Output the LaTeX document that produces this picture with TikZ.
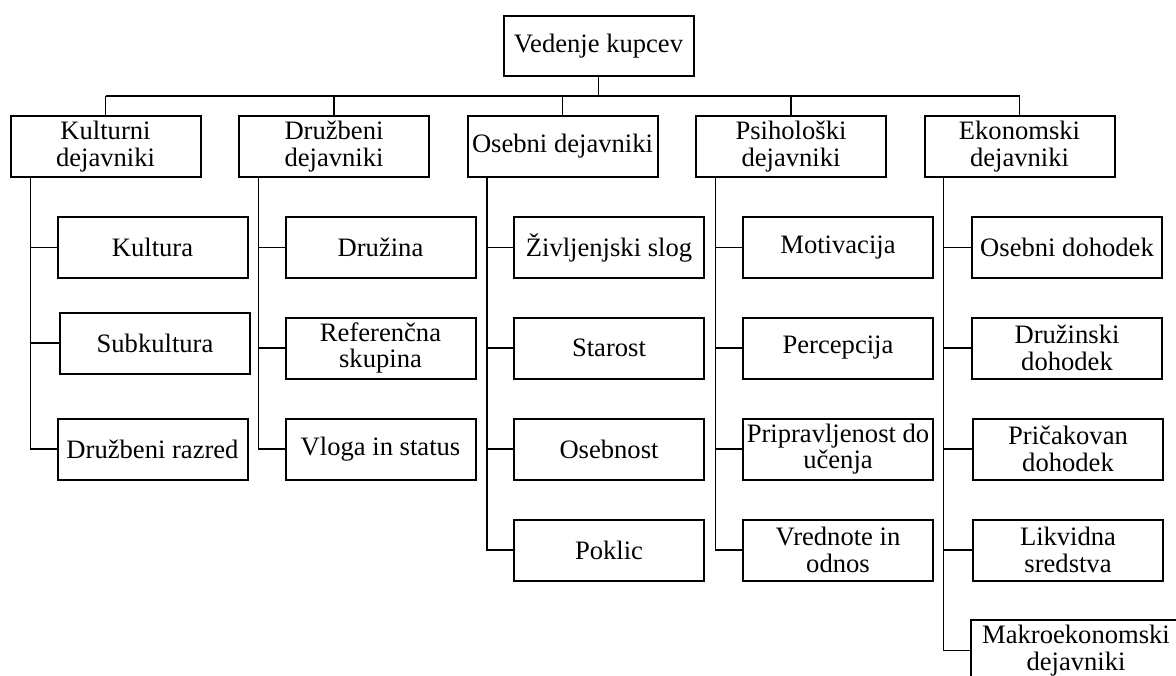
\documentclass[tikz,border=0pt]{standalone}
\usepackage{fontspec}
\setmainfont{Liberation Serif}
\begin{document}
\begin{tikzpicture}[x=0.5pt,y=-0.5pt,
  box/.style={draw, line width=1pt, minimum width=95pt, minimum height=30.5pt,
    inner sep=1pt, align=center, font=\fontsize{13.3}{13.2}\selectfont},
  wire/.style={line width=0.6pt},
  stem/.style={line width=0.9pt}]
\useasboundingbox (0,0) rectangle (1176,675);
% root and first level
\node[box, minimum height=30pt] (root) at (598.5,46) {Vedenje kupcev};
\node[box] (k) at (105.5,146.5) {Kulturni\\dejavniki};
\node[box] (d) at (334,146.5) {Družbeni\\dejavniki};
\node[box] (o) at (562.5,146.5) {Osebni dejavniki};
\node[box] (p) at (791,146.5) {Psihološki\\dejavniki};
\node[box] (e) at (1019.5,146.5) {Ekonomski\\dejavniki};
% leaves
\node[box] (k1) at (152.5,247.5) {Kultura};
\node[box] (k2) at (155,343) {Subkultura};
\node[box] (k3) at (152.5,449) {Družbeni razred};
\node[box] (d1) at (380.5,247.5) {Družina};
\node[box] (d2) at (380.5,348) {Referenčna\\skupina};
\node[box] (d3) at (380.5,449) {Vloga in status};
\node[box] (o1) at (609,247.5) {Življenjski slog};
\node[box] (o2) at (609,348) {Starost};
\node[box] (o3) at (609,449) {Osebnost};
\node[box] (o4) at (609,550) {Poklic};
\node[box] (p1) at (838,247.5) {Motivacija};
\node[box] (p2) at (838,348) {Percepcija};
\node[box] (p3) at (838,449) {Pripravljenost do\\učenja};
\node[box] (p4) at (838,550) {Vrednote in\\odnos};
\node[box] (e1) at (1067,247.5) {Osebni dohodek};
\node[box] (e2) at (1067,348) {Družinski\\dohodek};
\node[box] (e3) at (1068,449) {Pričakovan\\dohodek};
\node[box] (e4) at (1068,550) {Likvidna\\sredstva};
\node[box, minimum width=105pt] (e5) at (1076,650.5) {Makroekonomski\\dejavniki};
% bus
\coordinate (busL) at (105.5,96);
\coordinate (busR) at (1019.5,96);
\draw[wire] (busL) -- (busR);
\draw[stem] (root.south) -- (root.south |- busL);
\foreach \n in {k,d,o,p,e} \draw[wire] (\n.north) -- (\n.north |- busL);
% spines
\coordinate (ks) at (30.5,0);
\coordinate (ds) at (258.5,0);
\coordinate (os) at (487,0);
\coordinate (ps) at (715.5,0);
\coordinate (es) at (943.5,0);
\draw[wire] (ks |- k.south) |- (k3.west);
\draw[wire] (ds |- d.south) |- (d3.west);
\draw[wire] (os |- o.south) |- (o4.west);
\draw[wire] (ps |- p.south) |- (p4.west);
\draw[wire] (es |- e.south) |- (e5.west);
\foreach \n in {k1,k2} \draw[wire] (ks |- \n.west) -- (\n.west);
\foreach \n in {d1,d2} \draw[wire] (ds |- \n.west) -- (\n.west);
\foreach \n in {o1,o2,o3} \draw[wire] (os |- \n.west) -- (\n.west);
\foreach \n in {p1,p2,p3} \draw[wire] (ps |- \n.west) -- (\n.west);
\foreach \n in {e1,e2,e3,e4} \draw[wire] (es |- \n.west) -- (\n.west);
\end{tikzpicture}
\end{document}
